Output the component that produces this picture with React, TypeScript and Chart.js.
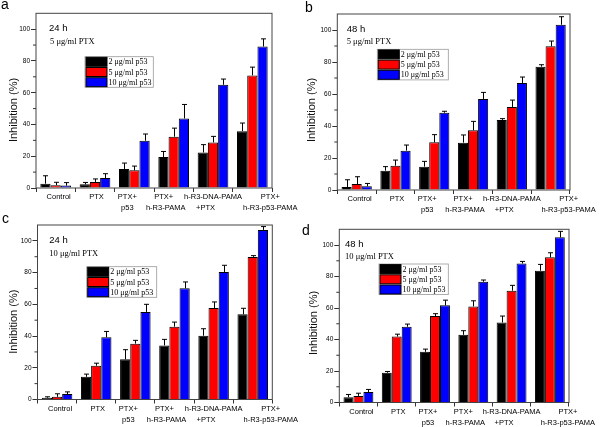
import React, { useEffect, useRef } from "react";
import { Chart, registerables } from "chart.js";

Chart.register(...registerables);

// ---------- data ----------
const categories: string[][] = [
  ["Control"],
  ["PTX"],
  ["PTX+", "p53"],
  ["PTX+", "h-R3-PAMA"],
  ["h-R3-DNA-PAMA", "+PTX"],
  ["PTX+", "h-R3-p53-PAMA"],
];
const seriesLabels = ["2 μg/ml p53", "5 μg/ml p53", "10 μg/ml p53"];
const seriesColors = ["#000000", "#ff0000", "#0000ff"];
const yMajorTicks = [0, 20, 40, 60, 80, 100];
const yMinorTicks = [10, 30, 50, 70, 90];
const yMax = 110;
const yAxisTitle = "Inhibition (%)";
const panelLetters = ["a", "b", "c", "d"];
const timeLabels = ["24 h", "48 h", "24 h", "48 h"];
const doseLabels = ["5 μg/ml PTX", "5 μg/ml PTX", "10 μg/ml PTX", "10 μg/ml PTX"];

// panel a: 24 h, 5 μg/ml PTX
const a2 = [2.7, 2.3, 12.0, 19.5, 22.4, 35.8];
const a5 = [1.8, 3.8, 11.1, 32.3, 28.7, 70.9];
const a10 = [1.5, 6.3, 29.8, 43.8, 65.0, 89.1];
const a2Err = [5.0, 1.2, 3.7, 3.5, 4.9, 5.1];
const a5Err = [1.8, 1.9, 2.7, 5.4, 3.8, 5.2];
const a10Err = [1.9, 2.7, 4.2, 8.8, 3.6, 4.8];

// panel b: 48 h, 5 μg/ml PTX
const b2 = [1.8, 12.1, 14.6, 29.6, 43.8, 77.1];
const b5 = [3.7, 15.2, 29.8, 37.3, 51.9, 89.8];
const b10 = [2.3, 24.6, 48.3, 56.9, 66.9, 103.3];
const b2Err = [4.6, 2.5, 3.3, 4.8, 0.8, 1.2];
const b5Err = [4.6, 3.5, 4.8, 5.6, 4.3, 3.3];
const b10Err = [1.8, 3.5, 0.9, 4.1, 3.7, 5.0];

// panel c: 24 h, 10 μg/ml PTX
const c2 = [1.1, 14.3, 25.3, 34.1, 40.2, 53.7];
const c5 = [1.7, 21.3, 35.2, 45.9, 57.7, 89.9];
const c10 = [3.4, 39.2, 55.2, 70.1, 80.4, 106.9];
const c2Err = [0.6, 1.7, 6.1, 3.8, 4.4, 3.8];
const c5Err = [1.9, 1.6, 2.1, 2.9, 3.8, 0.8];
const c10Err = [1.4, 3.7, 4.8, 4.0, 4.2, 2.1];

// panel d: 48 h, 10 μg/ml PTX
const d2 = [3.4, 18.9, 32.2, 43.0, 50.8, 83.7];
const d5 = [4.2, 41.9, 54.9, 61.0, 71.0, 92.2];
const d10 = [6.6, 48.1, 61.7, 76.7, 88.3, 104.9];
const d2Err = [1.7, 0.8, 1.7, 2.6, 4.1, 4.0];
const d5Err = [1.7, 1.5, 1.5, 3.6, 3.4, 2.9];
const d10Err = [1.7, 1.7, 3.3, 1.1, 1.3, 3.8];

const panelValues = [
  [a2, a5, a10],
  [b2, b5, b10],
  [c2, c5, c10],
  [d2, d5, d10],
];
const panelErrors = [
  [a2Err, a5Err, a10Err],
  [b2Err, b5Err, b10Err],
  [c2Err, c5Err, c10Err],
  [d2Err, d5Err, d10Err],
];

// ---------- layout / style ----------
const SANS = "'Liberation Sans', Arial, sans-serif";
const SERIF = "'Liberation Serif', 'Times New Roman', serif";
// horizontal shift of each category label line relative to its group centre
const labelShiftLine1 = [3, 1.5, -7, -10, 0, 18];
const labelShiftLine2 = [0, 0, -7, -8, -7.5, 18];

const layouts = [
  { x: 0, y: 0, w: 300, h: 216, area: { l: 36, r: 272, t: 13.3, b: 188 }, letter: { x: 1, y: 9 }, time: { x: 49, y: 31 }, dose: { x: 50, y: 43.5 }, legend: { x: 85, y: 56.7, w: 68.3 }, title: { x: 14, y: 110 } },
  { x: 300, y: 0, w: 300, h: 216, area: { l: 37.3, r: 270, t: 14, b: 190 }, letter: { x: 5, y: 11.5 }, time: { x: 46.7, y: 32 }, dose: { x: 46.7, y: 44 }, legend: { x: 77.3, y: 49.3, w: 71 }, title: { x: 11.7, y: 110 } },
  { x: 0, y: 210, w: 300, h: 217, area: { l: 37.5, r: 272.3, t: 15, b: 189.5 }, letter: { x: 2, y: 13 }, time: { x: 49.3, y: 33.3 }, dose: { x: 49.3, y: 45.5 }, legend: { x: 86.7, y: 56.7, w: 70 }, title: { x: 14, y: 111.7 } },
  { x: 300, y: 210, w: 300, h: 217, area: { l: 39.3, r: 269, t: 19.3, b: 192.5 }, letter: { x: 2, y: 25 }, time: { x: 45, y: 37.3 }, dose: { x: 45, y: 48.5 }, legend: { x: 79, y: 54, w: 69.3 }, title: { x: 13.8, y: 113 } },
];

function makeDecor(idx: number) {
  const L = layouts[idx];
  return {
    id: "decor" + idx,
    afterDatasetsDraw(chart: any) {
      const ctx = chart.ctx;
      const ys = chart.scales.y;
      ctx.save();
      ctx.strokeStyle = "#000";
      ctx.lineWidth = 1;
      chart.data.datasets.forEach((ds: any, i: number) => {
        const meta = chart.getDatasetMeta(i);
        meta.data.forEach((el: any, j: number) => {
          const v = ds.data[j] as number;
          const e = panelErrors[idx][i][j];
          const yTop = ys.getPixelForValue(v + e);
          const x = Math.round(el.x) + 0.5;
          ctx.beginPath();
          ctx.moveTo(x, el.y);
          ctx.lineTo(x, yTop);
          ctx.moveTo(x - 2.5, yTop);
          ctx.lineTo(x + 2.5, yTop);
          ctx.stroke();
        });
      });
      ctx.restore();
    },
    afterDraw(chart: any) {
      const ctx = chart.ctx;
      const a = chart.chartArea;
      const ys = chart.scales.y;
      const xs = chart.scales.x;
      ctx.save();
      // frame
      ctx.strokeStyle = "#444";
      ctx.lineWidth = 1;
      ctx.strokeRect(a.left, a.top, a.right - a.left, a.bottom - a.top);
      // minor ticks
      ctx.strokeStyle = "#333";
      yMinorTicks.forEach((v) => {
        const y = ys.getPixelForValue(v);
        ctx.beginPath();
        ctx.moveTo(a.left, y);
        ctx.lineTo(a.left - 3, y);
        ctx.stroke();
      });
      // category labels (placed through the x scale)
      ctx.fillStyle = "#000";
      ctx.font = `7.5px ${SANS}`;
      ctx.textAlign = "center";
      ctx.textBaseline = "middle";
      (chart.data.labels as string[][]).forEach((lines, i) => {
        const cx = xs.getPixelForValue(i);
        const y1 = a.bottom + 9.4;
        ctx.fillText(lines[0], cx + labelShiftLine1[i], y1);
        if (lines[1]) ctx.fillText(lines[1], cx + labelShiftLine2[i], y1 + 11);
      });
      // texts
      ctx.textAlign = "left";
      ctx.textBaseline = "alphabetic";
      ctx.font = `14px ${SANS}`;
      ctx.fillText(panelLetters[idx], L.letter.x, L.letter.y);
      ctx.font = `9.5px ${SANS}`;
      ctx.fillText(timeLabels[idx], L.time.x, L.time.y);
      ctx.font = `8.5px ${SERIF}`;
      ctx.fillText(doseLabels[idx], L.dose.x, L.dose.y);
      // legend
      const rowH = 10.2;
      const lg = L.legend;
      ctx.strokeStyle = "#999";
      ctx.lineWidth = 0.8;
      ctx.strokeRect(lg.x, lg.y, lg.w, rowH * 3);
      chart.data.datasets.forEach((ds: any, i: number) => {
        const ry = lg.y + i * rowH;
        ctx.fillStyle = ds.backgroundColor;
        ctx.fillRect(lg.x + 1, ry + 0.6, 21, rowH - 1.2);
        ctx.strokeStyle = "#000";
        ctx.lineWidth = 1;
        ctx.strokeRect(lg.x + 1, ry + 0.6, 21, rowH - 1.2);
        ctx.fillStyle = "#000";
        ctx.font = `8px ${SERIF}`;
        ctx.textBaseline = "middle";
        ctx.fillText(ds.label, lg.x + 23.5, ry + rowH / 2 + 0.5);
      });
      // y axis title
      ctx.translate(L.title.x, L.title.y);
      ctx.rotate(-Math.PI / 2);
      ctx.textAlign = "center";
      ctx.textBaseline = "middle";
      ctx.font = `11px ${SANS}`;
      ctx.fillStyle = "#111";
      ctx.fillText(yAxisTitle, 0, 0);
      ctx.restore();
    },
  };
}

function Panel({ idx }: { idx: number }) {
  const ref = useRef<HTMLCanvasElement>(null);
  const L = layouts[idx];
  useEffect(() => {
    const values = panelValues[idx];
    const chart = new Chart(ref.current as HTMLCanvasElement, {
      type: "bar",
      data: {
        labels: categories,
        datasets: seriesLabels.map((label, i) => ({
          label,
          data: values[i],
          backgroundColor: seriesColors[i],
          borderColor: "#000",
          borderWidth: 1,
          categoryPercentage: 0.78,
          barPercentage: 1,
        })),
      },
      options: {
        responsive: false,
        animation: false,
        devicePixelRatio: 1,
        layout: {
          autoPadding: false,
          padding: { left: 0, top: L.area.t, right: L.w - L.area.r, bottom: 0 },
        },
        plugins: {
          legend: { display: false },
          tooltip: { enabled: false },
          title: { display: false },
        },
        scales: {
          x: {
            type: "category",
            offset: true,
            grid: { display: true, offset: true, drawOnChartArea: false, drawTicks: true, tickLength: 4, color: "#333", lineWidth: 1 },
            border: { display: false },
            ticks: { display: false, autoSkip: false, maxRotation: 0, minRotation: 0 },
            afterFit: (s: any) => {
              s.height = L.h - L.area.b;
              s.paddingLeft = 0;
              s.paddingRight = 0;
            },
          },
          y: {
            type: "linear",
            min: 0,
            max: yMax,
            afterBuildTicks: (s: any) => {
              s.ticks = yMajorTicks.map((v) => ({ value: v }));
            },
            grid: { drawOnChartArea: false, drawTicks: true, tickLength: 5, color: "#333" },
            border: { display: false },
            ticks: { padding: 1, color: "#000", font: { family: SANS, size: 6.5 } },
            afterFit: (s: any) => {
              s.width = L.area.l;
              s.paddingTop = 0;
              s.paddingBottom = 0;
            },
          },
        },
      } as any,
      plugins: [makeDecor(idx) as any],
    });
    return () => chart.destroy();
  }, [idx]);
  return (
    <canvas
      ref={ref}
      width={L.w}
      height={L.h}
      style={{ position: "absolute", left: L.x, top: L.y, width: L.w, height: L.h, zIndex: L.y === 0 ? 2 : 1 }}
    />
  );
}

export default function App() {
  return (
    <div style={{ position: "fixed", left: 0, top: 0, width: 600, height: 427, background: "#fff", overflow: "hidden" }}>
      {[0, 1, 2, 3].map((i) => (
        <Panel key={i} idx={i} />
      ))}
    </div>
  );
}
